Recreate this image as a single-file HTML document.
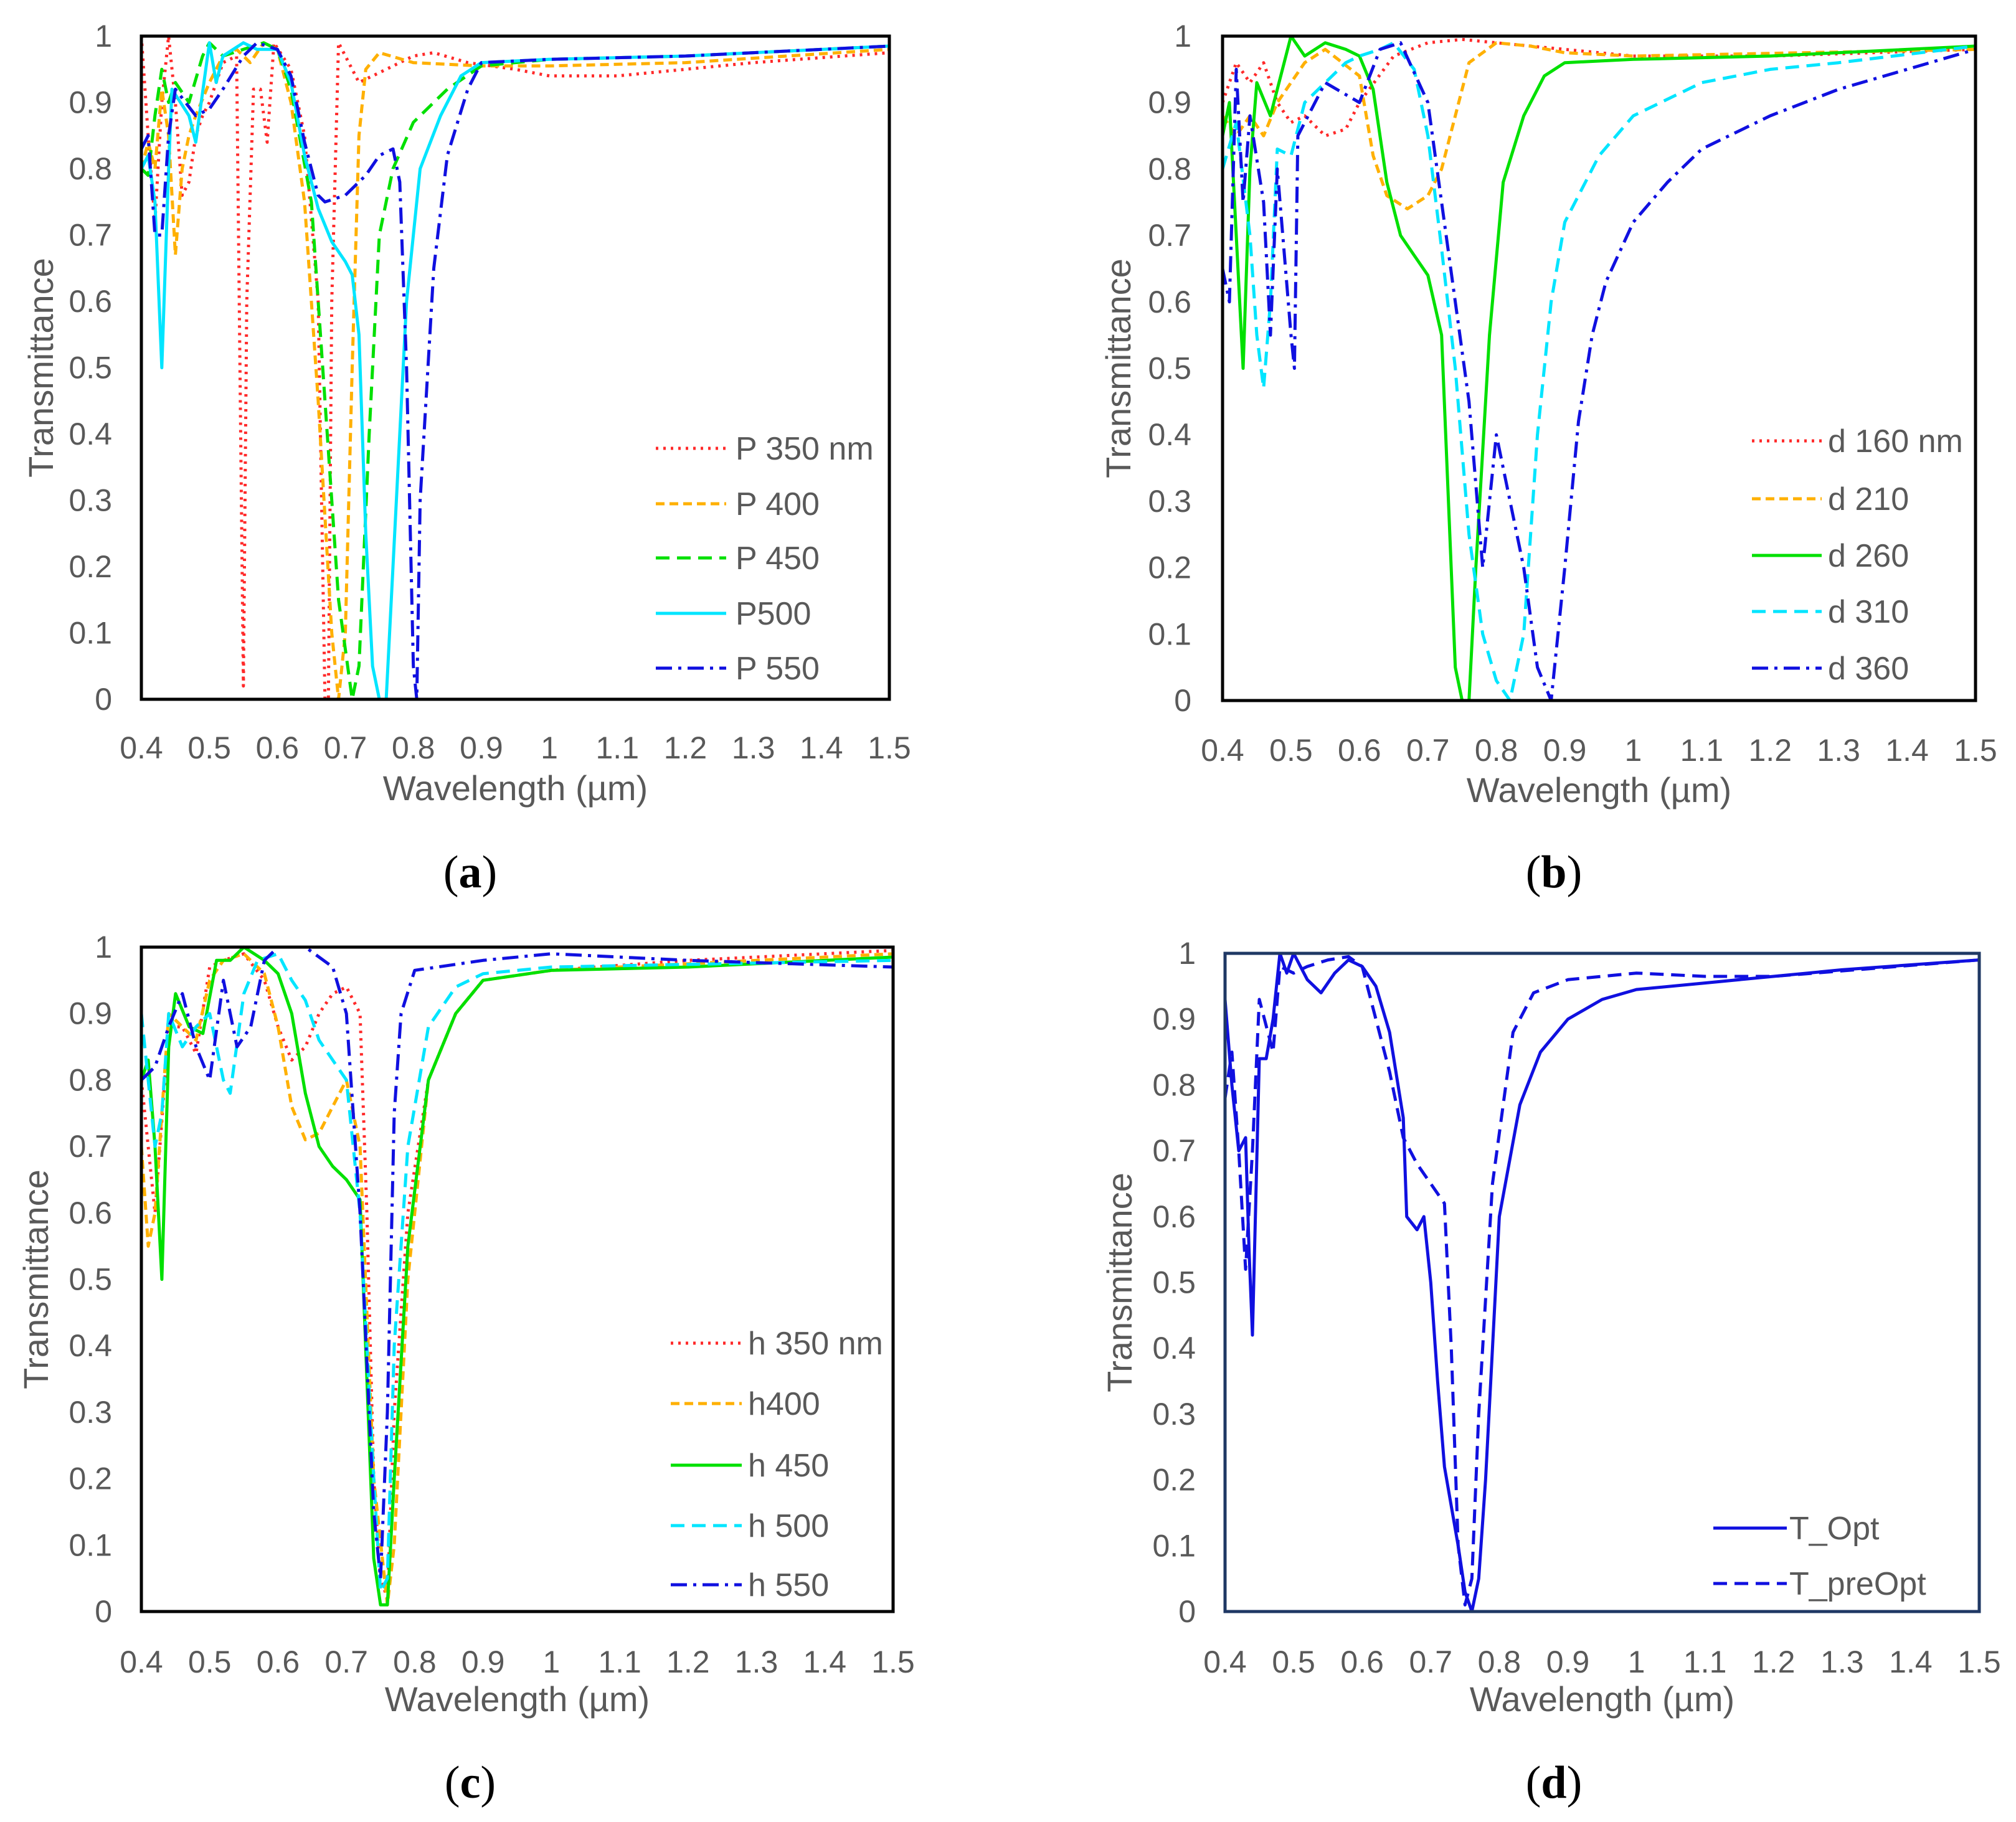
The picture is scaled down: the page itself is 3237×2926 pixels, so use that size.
<!DOCTYPE html>
<html><head><meta charset="utf-8"><style>
html,body{margin:0;padding:0;background:#fff;}
svg{display:block;font-family:"Liberation Sans",sans-serif;}
</style></head><body>
<svg id="chart" width="3237" height="2926" viewBox="0 0 3237 2926" xmlns="http://www.w3.org/2000/svg"></svg>
<script>
const xTicks=[0.4,0.5,0.6,0.7,0.8,0.9,1,1.1,1.2,1.3,1.4,1.5];
const yTicks=[0,0.1,0.2,0.3,0.4,0.5,0.6,0.7,0.8,0.9,1];
// panel a
const aP350x=[0.4,0.41,0.42,0.43,0.44,0.45,0.46,0.47,0.48,0.49,0.5,0.52,0.54,0.545,0.55,0.555,0.565,0.575,0.585,0.595,0.62,0.64,0.66,0.67,0.675,0.68,0.69,0.72,0.76,0.8,0.83,0.88,0.95,1.0,1.1,1.2,1.3,1.5];
const aP350y=[1,0.85,0.72,0.9,1,0.9,0.76,0.78,0.85,0.88,0.9,0.96,0.97,0.5,0.02,0.6,0.92,0.92,0.84,0.99,0.95,0.85,0.6,0,0,0.6,0.99,0.93,0.95,0.97,0.975,0.96,0.95,0.94,0.94,0.95,0.96,0.975];
const aP400x=[0.4,0.41,0.42,0.43,0.44,0.45,0.46,0.47,0.48,0.5,0.52,0.54,0.56,0.58,0.6,0.62,0.64,0.66,0.68,0.69,0.7,0.71,0.72,0.73,0.75,0.8,0.9,1.0,1.2,1.5];
const aP400y=[0.8,0.84,0.8,0.92,0.85,0.67,0.8,0.85,0.88,0.93,0.97,0.98,0.96,0.99,0.98,0.9,0.75,0.45,0.1,0,0.1,0.5,0.85,0.95,0.975,0.96,0.955,0.955,0.96,0.98];
const aP450x=[0.4,0.41,0.42,0.43,0.44,0.45,0.47,0.49,0.5,0.52,0.55,0.58,0.6,0.62,0.65,0.67,0.69,0.71,0.72,0.735,0.75,0.77,0.8,0.85,0.9,1.0,1.2,1.5];
const aP450y=[0.8,0.79,0.88,0.95,0.9,0.93,0.9,0.97,0.99,0.97,0.98,0.99,0.98,0.92,0.75,0.45,0.15,0,0.05,0.4,0.7,0.8,0.87,0.92,0.955,0.965,0.97,0.985];
const aP500x=[0.4,0.41,0.42,0.43,0.44,0.445,0.47,0.48,0.5,0.51,0.52,0.55,0.57,0.6,0.62,0.64,0.66,0.68,0.7,0.71,0.72,0.73,0.74,0.75,0.76,0.77,0.79,0.81,0.84,0.87,0.9,1.0,1.2,1.5];
const aP500y=[0.8,0.82,0.75,0.5,0.8,0.92,0.88,0.84,0.99,0.93,0.97,0.99,0.98,0.98,0.93,0.82,0.74,0.69,0.66,0.64,0.55,0.25,0.05,0,0,0.2,0.6,0.8,0.88,0.94,0.96,0.965,0.97,0.985];
const aP550x=[0.4,0.41,0.42,0.43,0.44,0.45,0.48,0.5,0.52,0.55,0.57,0.6,0.62,0.64,0.66,0.67,0.7,0.73,0.75,0.77,0.78,0.79,0.8,0.805,0.81,0.83,0.85,0.88,0.9,1.0,1.2,1.5];
const aP550y=[0.83,0.85,0.7,0.7,0.85,0.92,0.88,0.89,0.92,0.97,0.99,0.98,0.94,0.84,0.76,0.75,0.76,0.79,0.82,0.83,0.78,0.5,0.05,0,0.3,0.65,0.82,0.92,0.96,0.965,0.97,0.985];
// panel b
const bD160x=[0.4,0.42,0.44,0.46,0.48,0.5,0.52,0.55,0.58,0.6,0.65,0.7,0.75,0.8,0.9,1.0,1.2,1.5];
const bD160y=[0.9,0.96,0.93,0.96,0.9,0.87,0.88,0.85,0.86,0.9,0.97,0.99,0.995,0.99,0.98,0.97,0.97,0.98];
const bD210x=[0.4,0.42,0.44,0.46,0.48,0.5,0.52,0.55,0.6,0.62,0.64,0.67,0.7,0.72,0.74,0.76,0.8,0.85,0.9,1.0,1.5];
const bD210y=[0.88,0.85,0.88,0.85,0.9,0.93,0.96,0.98,0.94,0.82,0.76,0.74,0.76,0.8,0.88,0.96,0.99,0.985,0.975,0.97,0.98];
const bD260x=[0.4,0.41,0.42,0.43,0.44,0.45,0.47,0.49,0.5,0.52,0.55,0.58,0.6,0.62,0.64,0.66,0.68,0.7,0.72,0.73,0.74,0.75,0.76,0.77,0.79,0.81,0.84,0.87,0.9,1.0,1.2,1.5];
const bD260y=[0.85,0.9,0.7,0.5,0.8,0.93,0.88,0.96,1,0.97,0.99,0.98,0.97,0.92,0.78,0.7,0.67,0.64,0.55,0.3,0.05,0,0,0.2,0.55,0.78,0.88,0.94,0.96,0.965,0.97,0.985];
const bD310x=[0.4,0.42,0.44,0.45,0.46,0.47,0.48,0.5,0.52,0.55,0.58,0.6,0.63,0.65,0.68,0.7,0.72,0.74,0.76,0.78,0.8,0.82,0.84,0.86,0.88,0.9,0.95,1.0,1.1,1.2,1.3,1.5];
const bD310y=[0.8,0.87,0.7,0.55,0.47,0.6,0.83,0.82,0.9,0.93,0.96,0.97,0.98,0.99,0.95,0.85,0.68,0.5,0.25,0.1,0.03,0,0.1,0.4,0.6,0.72,0.82,0.88,0.93,0.95,0.96,0.985];
const bD360x=[0.4,0.41,0.42,0.43,0.44,0.46,0.47,0.48,0.5,0.505,0.51,0.55,0.6,0.63,0.66,0.7,0.72,0.74,0.76,0.78,0.79,0.8,0.82,0.84,0.86,0.88,0.9,0.92,0.94,0.96,1.0,1.05,1.1,1.2,1.3,1.4,1.5];
const bD360y=[0.65,0.6,0.95,0.75,0.88,0.75,0.55,0.8,0.55,0.5,0.85,0.93,0.9,0.98,0.99,0.9,0.75,0.6,0.45,0.2,0.3,0.4,0.3,0.2,0.05,0,0.2,0.42,0.55,0.63,0.72,0.78,0.83,0.88,0.92,0.95,0.98];
// panel c
const cH350x=[0.4,0.42,0.44,0.46,0.48,0.5,0.52,0.55,0.58,0.6,0.62,0.64,0.66,0.68,0.7,0.72,0.73,0.74,0.75,0.76,0.77,0.79,0.82,0.86,0.9,1.0,1.2,1.5];
const cH350y=[0.8,0.6,0.88,0.88,0.84,0.97,0.98,0.99,0.95,0.88,0.83,0.85,0.9,0.93,0.94,0.9,0.6,0.2,0.05,0.02,0.3,0.6,0.8,0.9,0.95,0.965,0.98,0.995];
const cH400x=[0.4,0.41,0.42,0.44,0.46,0.48,0.5,0.52,0.55,0.58,0.6,0.62,0.64,0.66,0.68,0.7,0.72,0.74,0.76,0.77,0.79,0.82,0.86,0.9,1.0,1.2,1.5];
const cH400y=[0.7,0.55,0.6,0.9,0.88,0.86,0.95,0.98,0.99,0.96,0.88,0.76,0.71,0.72,0.76,0.8,0.7,0.2,0.01,0.1,0.5,0.8,0.9,0.95,0.965,0.975,0.99];
const cH450x=[0.4,0.41,0.42,0.43,0.44,0.45,0.47,0.49,0.51,0.53,0.55,0.58,0.6,0.62,0.64,0.66,0.68,0.7,0.72,0.73,0.74,0.75,0.76,0.77,0.79,0.82,0.86,0.9,1.0,1.2,1.5];
const cH450y=[0.8,0.83,0.7,0.5,0.85,0.93,0.88,0.87,0.98,0.98,1,0.98,0.96,0.9,0.78,0.7,0.67,0.65,0.62,0.35,0.08,0.01,0.01,0.2,0.55,0.8,0.9,0.95,0.965,0.97,0.985];
const cH500x=[0.4,0.42,0.43,0.44,0.46,0.48,0.5,0.52,0.53,0.55,0.57,0.6,0.62,0.64,0.66,0.68,0.7,0.72,0.74,0.75,0.76,0.77,0.79,0.82,0.86,0.9,1.0,1.5];
const cH500y=[0.9,0.7,0.75,0.9,0.85,0.88,0.9,0.8,0.78,0.93,0.98,0.99,0.95,0.92,0.86,0.83,0.8,0.6,0.2,0.03,0.05,0.4,0.7,0.88,0.94,0.96,0.97,0.98];
const cH550x=[0.4,0.42,0.44,0.46,0.48,0.5,0.52,0.54,0.56,0.58,0.6,0.64,0.68,0.7,0.72,0.74,0.75,0.76,0.77,0.78,0.8,0.9,1.0,1.2,1.5];
const cH550y=[0.8,0.82,0.88,0.93,0.85,0.8,0.95,0.85,0.88,0.98,1,1,0.97,0.9,0.6,0.15,0.05,0.3,0.75,0.9,0.965,0.98,0.99,0.98,0.97];
// panel d
const dOptx=[0.4,0.41,0.42,0.43,0.435,0.44,0.45,0.46,0.47,0.48,0.49,0.5,0.52,0.54,0.56,0.58,0.6,0.62,0.64,0.66,0.665,0.68,0.69,0.7,0.71,0.72,0.74,0.75,0.76,0.77,0.78,0.79,0.8,0.83,0.86,0.9,0.95,1.0,1.1,1.2,1.3,1.5];
const dOpty=[0.93,0.8,0.7,0.72,0.55,0.42,0.84,0.84,0.9,1,0.97,1,0.96,0.94,0.97,0.99,0.98,0.95,0.88,0.75,0.6,0.58,0.6,0.5,0.35,0.22,0.1,0.03,0,0.05,0.2,0.4,0.6,0.77,0.85,0.9,0.93,0.945,0.955,0.965,0.975,0.99];
const dPrex=[0.4,0.41,0.42,0.43,0.44,0.45,0.47,0.48,0.5,0.52,0.55,0.58,0.6,0.62,0.64,0.66,0.68,0.7,0.72,0.73,0.74,0.75,0.76,0.77,0.79,0.82,0.85,0.9,1.0,1.1,1.2,1.5];
const dPrey=[0.78,0.85,0.7,0.52,0.7,0.93,0.85,0.98,0.97,0.98,0.99,0.995,0.98,0.9,0.82,0.72,0.68,0.65,0.62,0.4,0.1,0.01,0.05,0.3,0.65,0.88,0.94,0.96,0.97,0.965,0.965,0.99];

const NS="http://www.w3.org/2000/svg";
const svg=document.getElementById('chart');
function mk(tag,attrs,parent){const e=document.createElementNS(NS,tag);for(const k in attrs)e.setAttribute(k,attrs[k]);(parent||svg).appendChild(e);return e;}

const panels=[
 {id:'a',x0:227,x1:1428,y0:58,y1:1123,border:'#000',tickR:180,titleX:70,xtY:1218,xTitleY:1285,lab:[755,1425],
  series:[[aP350x,aP350y,'#ff2a2a','4 8','p350-series','P 350 nm'],[aP400x,aP400y,'#ffb000','14 8','p400-series','P 400'],[aP450x,aP450y,'#00e000','22 12','p450-series','P 450'],[aP500x,aP500y,'#00e5ff','','p500-series','P500'],[aP550x,aP550y,'#1010e0','26 10 5 10','p550-series','P 550']],
  leg:{lx0:1053,lx1:1166,tx:1181,ys:[720,809,896,985,1073]}},
 {id:'b',x0:1963,x1:3172,y0:58,y1:1125,border:'#000',tickR:1913,titleX:1800,xtY:1222,xTitleY:1288,lab:[2495,1425],
  series:[[bD160x,bD160y,'#ff2a2a','4 8','d160-series','d 160 nm'],[bD210x,bD210y,'#ffb000','14 8','d210-series','d 210'],[bD260x,bD260y,'#00e000','','d260-series','d 260'],[bD310x,bD310y,'#00e5ff','22 12','d310-series','d 310'],[bD360x,bD360y,'#1010e0','26 10 5 10','d360-series','d 360']],
  leg:{lx0:2813,lx1:2925,tx:2935,ys:[708,801,892,982,1073]}},
 {id:'c',x0:227,x1:1434,y0:1521,y1:2588,border:'#000',tickR:180,titleX:62,xtY:2686,xTitleY:2748,lab:[755,2887],
  series:[[cH350x,cH350y,'#ff2a2a','4 8','h350-series','h 350 nm'],[cH400x,cH400y,'#ffb000','14 8','h400-series','h400'],[cH450x,cH450y,'#00e000','','h450-series','h 450'],[cH500x,cH500y,'#00e5ff','22 12','h500-series','h 500'],[cH550x,cH550y,'#1010e0','26 10 5 10','h550-series','h 550']],
  leg:{lx0:1077,lx1:1191,tx:1201,ys:[2157,2254,2353,2450,2545]}},
 {id:'d',x0:1967,x1:3178,y0:1531,y1:2588,border:'#1f3864',tickR:1920,titleX:1802,xtY:2686,xTitleY:2748,lab:[2495,2887],
  series:[[dOptx,dOpty,'#1010e0','','t-opt-series','T_Opt'],[dPrex,dPrey,'#1010e0','22 12','t-preopt-series','T_preOpt']],
  leg:{lx0:2751,lx1:2869,tx:2873,ys:[2454,2543]}}
];

panels.forEach(p=>{
  const g=mk('g',{});
  
  
  const sx=v=>p.x0+(v-0.4)/(1.5-0.4)*(p.x1-p.x0);
  const sy=v=>p.y1-v*(p.y1-p.y0);
  const cp=mk('clipPath',{id:'clip'+p.id},g);
  mk('rect',{x:p.x0,y:p.y0-4,width:p.x1-p.x0,height:p.y1-p.y0+8},cp);
  p.series.forEach(s=>{
    const [xs,ys,col,dash,name]=s;
    const d=xs.map((x,i)=>(i?'L':'M')+sx(x).toFixed(1)+' '+sy(ys[i]).toFixed(1)).join(' ');
    const path=mk('path',{d:d,fill:'none',stroke:col,'stroke-width':5,'stroke-dasharray':dash||'none','stroke-linejoin':'round','clip-path':'url(#clip'+p.id+')'},g);
    
    
  });
  const frame=mk('rect',{x:p.x0,y:p.y0,width:p.x1-p.x0,height:p.y1-p.y0,fill:'none',stroke:p.border,'stroke-width':5},g);
  
  
  yTicks.forEach(t=>{
    const e=mk('text',{x:p.tickR,y:sy(t)+17,'text-anchor':'end','font-size':50,fill:'#595959'},g);
    e.textContent=String(t);
    
    
  });
  xTicks.forEach(t=>{
    const e=mk('text',{x:sx(t),y:p.xtY,'text-anchor':'middle','font-size':50,fill:'#595959'},g);
    e.textContent=String(t);
    
    
  });
  const xt=mk('text',{x:(p.x0+p.x1)/2,y:p.xTitleY,'text-anchor':'middle','font-size':56,fill:'#595959'},g);
  xt.textContent='Wavelength (µm)';
  
  
  const cy=(p.y0+p.y1)/2;
  const yt=mk('text',{x:p.titleX,y:cy,'text-anchor':'middle','font-size':56,fill:'#595959',transform:'rotate(-90 '+p.titleX+' '+cy+')','dominant-baseline':'middle'},g);
  yt.textContent='Transmittance';
  
  
  p.series.forEach((s,i)=>{
    const y=p.leg.ys[i];
    const l=mk('line',{x1:p.leg.lx0,x2:p.leg.lx1,y1:y,y2:y,stroke:s[2],'stroke-width':5,'stroke-dasharray':s[3]||'none'},g);
    
    
    const t=mk('text',{x:p.leg.tx,y:y+18,'font-size':52,fill:'#595959'},g);
    t.textContent=s[5];
    
    
  });
  const lb=mk('text',{x:p.lab[0],y:p.lab[1],'text-anchor':'middle','font-size':74,fill:'#000','font-family':'Liberation Serif, serif'},g);
  lb.innerHTML='(<tspan font-weight="bold">'+p.id+'</tspan>)';
  
  
});
</script>
</body></html>
